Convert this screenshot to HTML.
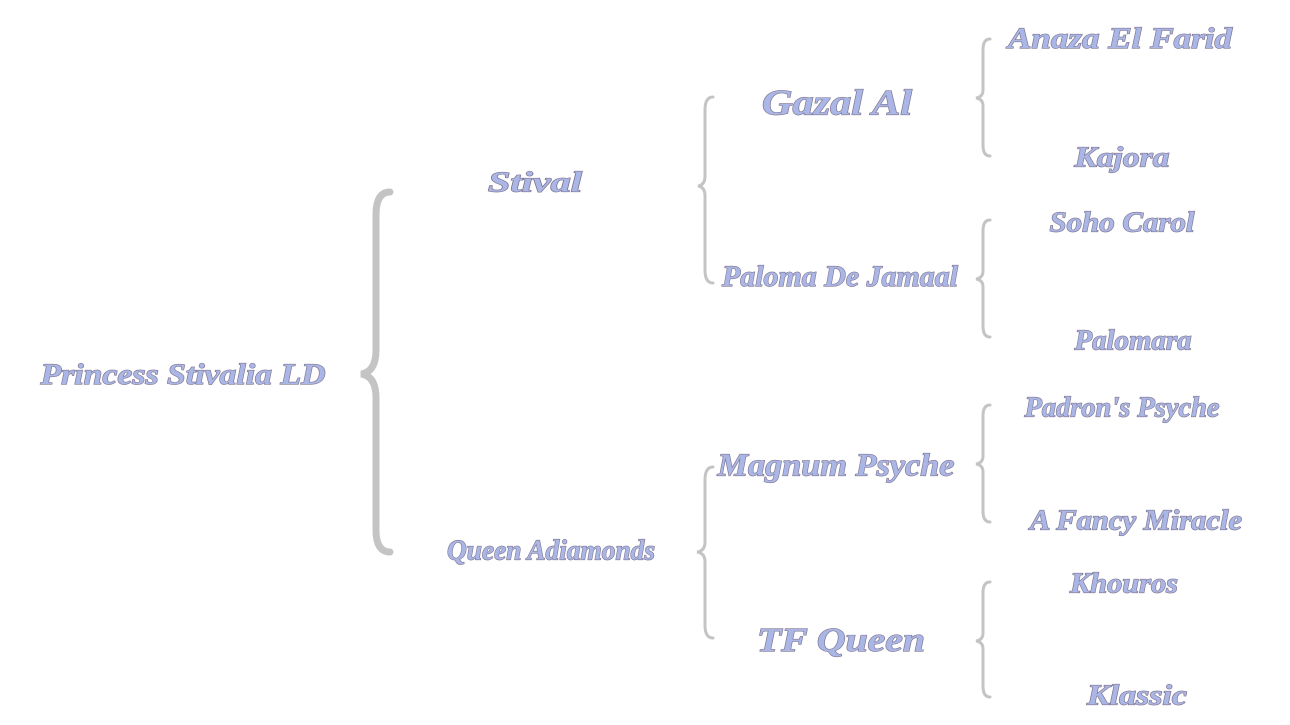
<!DOCTYPE html>
<html><head><meta charset="utf-8"><style>
html,body{margin:0;padding:0;background:#fff;width:1290px;height:725px;overflow:hidden}
svg text{font-family:"Liberation Serif",serif;font-style:italic;font-weight:bold;fill:#aab7e6;stroke:#7f7490;stroke-width:1.2px;paint-order:stroke;text-anchor:middle;dominant-baseline:middle}
</style></head><body>
<svg width="1290" height="725" viewBox="0 0 1290 725" xmlns="http://www.w3.org/2000/svg">
<g fill="none" stroke="#c4c4c4" stroke-linecap="round">
<path stroke-width="7" d="M390 192 Q376 192 376 215 L376 350 Q376 372 361 374 Q376 376 376 398 L376 530 Q376 552 390 552"/>
<path stroke-width="3" d="M713 97 Q705 97 705 110 L705 176 Q705 185 698 186 Q705 187 705 196 L705 270 Q705 283 713 283"/>
<path stroke-width="3" d="M713 467 Q705 467 705 480 L705 542 Q705 551 697 552 Q705 553 705 562 L705 625 Q705 638 713 638"/>
<path stroke-width="3" d="M990 39 Q983 39 983 50 L983 90 Q983 97 976 98 Q983 99 983 106 L983 145 Q983 156 990 156"/>
<path stroke-width="3" d="M990 220 Q983 220 983 231 L983 271 Q983 278 976 279 Q983 280 983 287 L983 326 Q983 337 990 337"/>
<path stroke-width="3" d="M990 405 Q983 405 983 416 L983 456 Q983 463 976 464 Q983 465 983 472 L983 511 Q983 522 990 522"/>
<path stroke-width="3" d="M990 582 Q983 582 983 593 L983 633 Q983 640 976 641 Q983 642 983 649 L983 686 Q983 697 990 697"/>
</g>
<g transform="translate(0,3)">
<text x="183" y="374" font-size="30" textLength="285" lengthAdjust="spacingAndGlyphs">Princess Stivalia LD</text>
<text x="535" y="182" font-size="28" textLength="94" lengthAdjust="spacingAndGlyphs">Stival</text>
<text x="551" y="550" font-size="28" textLength="208" lengthAdjust="spacingAndGlyphs">Queen Adiamonds</text>
<text x="837" y="103" font-size="36" textLength="150" lengthAdjust="spacingAndGlyphs">Gazal Al</text>
<text x="840" y="276" font-size="30" textLength="236" lengthAdjust="spacingAndGlyphs">Paloma De Jamaal</text>
<text x="836" y="465" font-size="32" textLength="237" lengthAdjust="spacingAndGlyphs">Magnum Psyche</text>
<text x="841" y="640" font-size="34" textLength="168" lengthAdjust="spacingAndGlyphs">TF Queen</text>
<text x="1120" y="38" font-size="30" textLength="224" lengthAdjust="spacingAndGlyphs">Anaza El Farid</text>
<text x="1122" y="157" font-size="28" textLength="95" lengthAdjust="spacingAndGlyphs">Kajora</text>
<text x="1122" y="222" font-size="28" textLength="145" lengthAdjust="spacingAndGlyphs">Soho Carol</text>
<text x="1133" y="340" font-size="28" textLength="117" lengthAdjust="spacingAndGlyphs">Palomara</text>
<text x="1122" y="407" font-size="28" textLength="195" lengthAdjust="spacingAndGlyphs">Padron's Psyche</text>
<text x="1136" y="520" font-size="28" textLength="212" lengthAdjust="spacingAndGlyphs">A Fancy Miracle</text>
<text x="1124" y="583" font-size="28" textLength="108" lengthAdjust="spacingAndGlyphs">Khouros</text>
<text x="1137" y="695" font-size="28" textLength="100" lengthAdjust="spacingAndGlyphs">Klassic</text>
</g>
</svg>
</body></html>
